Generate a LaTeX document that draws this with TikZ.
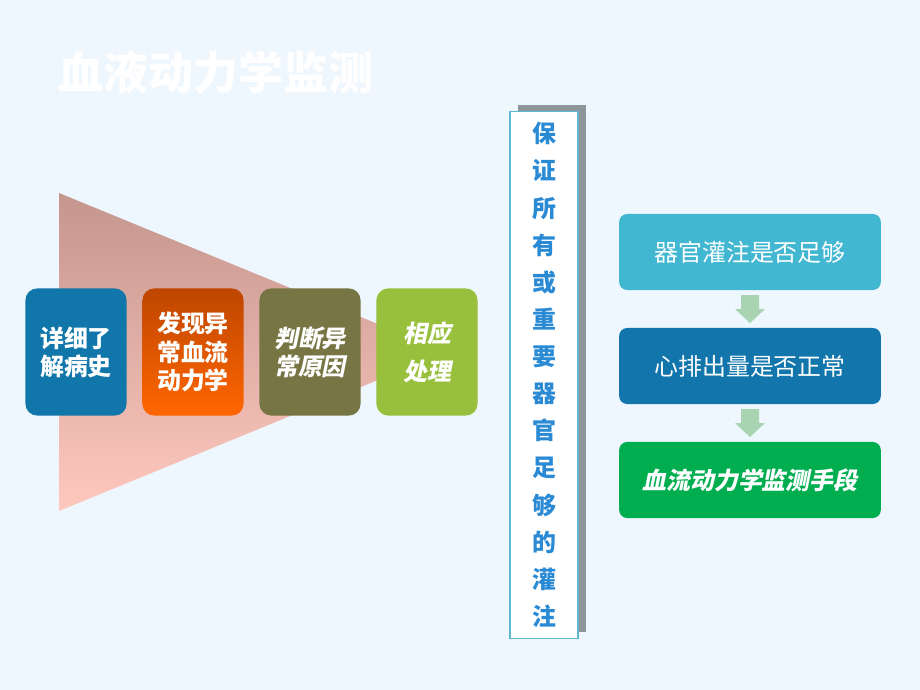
\documentclass[tikz,border=0pt]{standalone}
\usepackage{fontspec}
\usepackage{tikz}

\newfontfamily\cjk{Noto Sans CJK SC}
\newfontfamily\cjkit{Noto Sans CJK SC}[FakeSlant=0.2]

\definecolor{bgblue}{HTML}{EEF6FE}
\definecolor{triTop}{HTML}{C4968E}
\definecolor{triBot}{HTML}{FFC8BE}
\definecolor{stBlue}{HTML}{1177AB}
\definecolor{stOrTop}{HTML}{BE4600}
\definecolor{stOrBot}{HTML}{FF6600}
\definecolor{stOlive}{HTML}{777544}
\definecolor{stGreen}{HTML}{98C03D}
\definecolor{vBorder}{HTML}{5BB8CF}
\definecolor{vText}{HTML}{2A8AD4}
\definecolor{vShadow}{HTML}{8F969B}
\definecolor{qCyan}{HTML}{42B7D2}
\definecolor{qBlue}{HTML}{1276AC}
\definecolor{qGreen}{HTML}{00AE50}
\definecolor{arrGreen}{HTML}{A8D4B2}

\begin{document}
\begin{tikzpicture}[x=0.025cm, y=-0.025cm]
 \tikzstyle{stage}=[rounded corners=0.3cm, minimum width=2.53cm, minimum height=3.18cm, text=white, align=center, inner sep=0pt]
 \tikzstyle{check}=[rounded corners=0.2cm, minimum width=6.54cm, minimum height=1.9cm, text=white, inner sep=0pt]
 \tikzstyle{down}=[fill=arrGreen]
 %
 \fill[bgblue] (0,0) rectangle (920,690);
 \useasboundingbox (0,0) rectangle (920,690);
 %
 \node[text=white, font=\cjk\bfseries\fontsize{32}{36}\selectfont] (T) at (216,72) {血液动力学监测};
 %
 \shade[top color=triTop, bottom color=triBot] (59,193) -- (446,352) -- (59,511) -- cycle;
 %
 \node[stage, fill=stBlue, font=\cjk\bfseries\fontsize{17}{20}\selectfont] (D1) at (76,352) {详细了\\解病史};
 \node[stage, top color=stOrTop, bottom color=stOrBot, font=\cjk\bfseries\fontsize{17}{20}\selectfont] (D2) at (193,352) {发现异\\常血流\\动力学};
 \node[stage, fill=stOlive, font=\cjkit\bfseries\fontsize{17}{20}\selectfont] (D3) at (310,352) {判断异\\常原因};
 \node[stage, fill=stGreen, font=\cjkit\bfseries\fontsize{17}{27}\selectfont] (D4) at (427,352) {相应\\处理};
 %
 \fill[vShadow] (518,105) rectangle (586,632);
 \node[draw=vBorder, fill=white, line width=0.8pt, minimum width=1.7cm, minimum height=13.15cm, text=vText, align=center, font=\cjk\bfseries\fontsize{17}{26.4}\selectfont] (B) at (544,375) {保\\证\\所\\有\\或\\重\\要\\器\\官\\足\\够\\的\\灌\\注};
 %
 \node[check, fill=qCyan, font=\cjk\fontsize{17}{20}\selectfont] (Q1) at (750,252) {器官灌注是否足够};
 \node[check, fill=qBlue, font=\cjk\fontsize{17}{20}\selectfont] (Q2) at (750,366) {心排出量是否正常};
 \node[check, fill=qGreen, font=\cjkit\bfseries\fontsize{17}{20}\selectfont] (Q3) at (750,480) {血流动力学监测手段};
 %%
 \fill[down] (741,295) -- (759,295) -- (759,309) -- (765,309) -- (750,323) -- (735,309) -- (741,309) -- cycle;
 \fill[down] (741,409) -- (759,409) -- (759,423) -- (765,423) -- (750,437) -- (735,423) -- (741,423) -- cycle;
\end{tikzpicture}
\end{document}
